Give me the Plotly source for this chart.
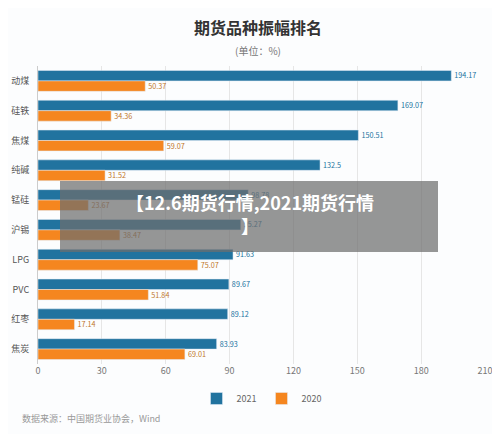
import plotly.graph_objects as go

categories = ["动煤", "硅铁", "焦煤", "纯碱", "锰硅", "沪锡", "LPG", "PVC", "红枣", "焦炭"]
v2021 = [194.17, 169.07, 150.51, 132.5, 98.78, 95.27, 91.63, 89.67, 89.12, 83.93]
v2020 = [50.37, 34.36, 59.07, 31.52, 23.67, 38.47, 75.07, 51.84, 17.14, 69.01]
ticks = [0, 30, 60, 90, 120, 150, 180, 210]

W, H = 500, 434
L, R, T, B = 30, 23, 58, 78
pw, ph = W - L - R, H - T - B
def px(x): return (x - 8 - L) / pw
def py(y): return (H - B - (y - 8)) / ph

c21, c20 = "#21739f", "#f5861f"
fig = go.Figure()
fig.add_bar(y=categories, x=v2021, name="2021", orientation="h", marker=dict(color=c21),
            text=[f"{v:g}" for v in v2021], textposition="outside", cliponaxis=False,
            textfont=dict(color=c21, size=9))
fig.add_bar(y=categories, x=v2020, name="2020", orientation="h", marker=dict(color=c20),
            text=[f"{v:g}" for v in v2020], textposition="outside", cliponaxis=False,
            textfont=dict(color="#c0762a", size=9))
fig.update_layout(
    width=W, height=H, paper_bgcolor="#fcfdfe", plot_bgcolor="#fcfdfe",
    font=dict(family="Noto Sans CJK SC", size=9, color="#666"),
    barmode="group", bargap=0.3, bargroupgap=0.0,
    margin=dict(l=L, r=R, t=T, b=B, autoexpand=False),
    title=dict(text="<b>期货品种振幅排名</b><br><span style='font-size:10px;color:#777'>(单位：%)</span>",
               x=0.5, xanchor="center", y=0.94, yanchor="bottom", font=dict(size=16, color="#333")),
    xaxis=dict(range=[0, 210], tickvals=ticks, showgrid=True, gridcolor="#e6e6e6",
               zeroline=False, tickfont=dict(size=9, color="#777"), automargin=False),
    yaxis=dict(autorange="reversed", tickfont=dict(size=9, color="#555"), ticksuffix="   ",
               showline=True, linecolor="#ccc", automargin=False),
    legend=dict(orientation="h", x=0.5, xanchor="center", y=py(384), yanchor="top",
                font=dict(size=9)),
)
fig.add_annotation(text="数据来源：中国期货业协会，Wind", xref="paper", yref="paper",
                   x=px(20), y=py(418), xanchor="left", yanchor="middle", showarrow=False,
                   font=dict(size=9, color="#999"))
fig.add_shape(type="rect", xref="paper", yref="paper", x0=px(60), x1=px(438),
              y0=py(252), y1=py(181), fillcolor="rgba(110,110,110,0.72)",
              line=dict(width=0), layer="above")
fig.add_annotation(text="<b>【12.6期货行情,2021期货行情<br>】</b>", xref="paper", yref="paper",
                   x=px(250), y=py(213), showarrow=False,
                   font=dict(size=18, color="white", family="Noto Sans CJK SC"),
                   align="center")
fig.write_html("out.html")
